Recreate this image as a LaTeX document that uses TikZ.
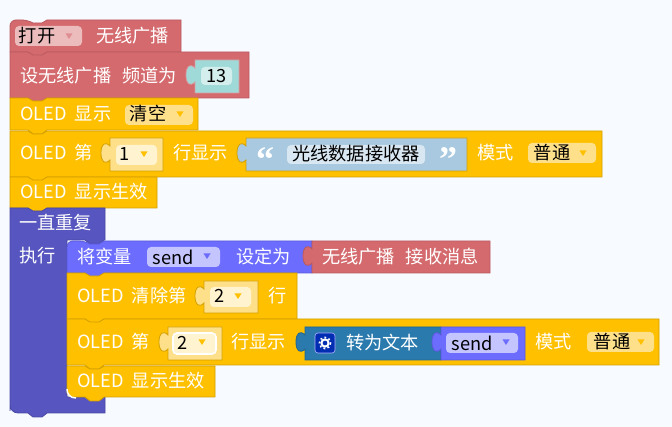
\documentclass[tikz,border=0pt]{standalone}
\usepackage{fontspec}
\setmainfont[WordSpace=2]{Noto Sans CJK SC}
\newfontfamily\quotfont{Liberation Serif}

\definecolor{pagebg}{HTML}{F7FAFF}
\definecolor{radiored}{HTML}{D46A6D}
\definecolor{radioedge}{HTML}{B85A60}
\definecolor{oledyel}{HTML}{FFC000}
\definecolor{oledge}{HTML}{D2A000}
\definecolor{loopblue}{HTML}{5755BF}
\definecolor{loopedge}{HTML}{4A48A5}
\definecolor{varblue}{HTML}{6C6CFF}
\definecolor{varedge}{HTML}{5A5AD8}
\definecolor{numteal}{HTML}{A0DAD8}
\definecolor{numyel}{HTML}{FFE08A}
\definecolor{textblue}{HTML}{A8C9DF}
\definecolor{convblue}{HTML}{2A7AAD}
\definecolor{convedge}{HTML}{1F6690}

\newcommand{\stackblock}[7]{% style, top radius, bottom radius, x0, y0, x1, y1
  \draw[#1] (#4,{#5+10}) [rounded corners=#2] -- (#4,#5) -- ({#4+18},#5) [sharp corners]
    -- ({#4+23},{#5+3}) -- ({#4+32},{#5+3}) -- ({#4+37},#5) -- (#6,#5) -- (#6,#7)
    -- ({#4+37},#7) -- ({#4+32},{#7+4}) -- ({#4+23},{#7+4}) -- ({#4+18},#7)
    [rounded corners=#3] -- (#4,#7) -- (#4,{#7-10}) [sharp corners] -- cycle;
}
\newcommand{\valueblock}[5]{% style, x0, y0, x1, y1
  \draw[#1] (#2,#3) -- (#2,{#3+8}) .. controls ({#2-5},{#3+3}) and ({#2-9},{#3+6}) .. ({#2-9},{#3+15})
    .. controls ({#2-9},{#3+24}) and ({#2-5},{#3+27}) .. (#2,{#3+22}) -- (#2,#5) -- (#4,#5) -- (#4,#3) -- cycle;
}
\newcommand{\ddtri}[3]{% colour, x, y
  \fill[#1] ({#2-3.5},{#3-2.5}) -- ({#2+3.5},{#3-2.5}) -- (#2,{#3+3}) -- cycle;
}

\begin{document}
\begin{tikzpicture}[
  x=1pt, y=-1pt,
  every node/.style={inner sep=0pt, font=\fontsize{18.2}{20}\selectfont},
  lbl/.style={anchor=west, text=white},
  val/.style={anchor=center, text=black},
  quot/.style={anchor=center, text=white, font=\quotfont\bfseries\fontsize{36}{36}\selectfont},
  redblock/.style={fill=radiored, draw=radioedge, line width=0.8pt},
  yelblock/.style={fill=oledyel, draw=oledge, line width=0.8pt},
  varblock/.style={fill=varblue, draw=varedge, line width=0.8pt},
  numblock/.style={fill=numteal, draw=radioedge!60, line width=0.8pt},
  idxblock/.style={fill=numyel, draw=oledge, line width=0.8pt},
  strblock/.style={fill=textblue, draw=oledge, line width=0.8pt},
  convblock/.style={fill=convblue, draw=convedge, line width=0.8pt},
  field/.style={rounded corners=4pt}
]
\fill[pagebg] (0,0) rectangle (672,427);
\useasboundingbox (0,0) rectangle (672,427);

% Radio setup
\stackblock{redblock}{6pt}{0.1pt}{10}{20}{181}{52}
\fill[field, fill=radiored!45!white] (15,26) rectangle (82,46);
\node[val] (onoff) at (37,36) {打开};
\ddtri{radiored!75!white}{69}{36}
\node[lbl] (radio) at (96,36) {无线广播};

\stackblock{redblock}{0.1pt}{0.1pt}{10}{52}{249}{98}
\node[lbl] (channel) at (20,76) {设无线广播\hspace{11pt}频道为};
\valueblock{numblock}{195}{60}{239}{93}
\fill[field, fill=numteal!45!white] (201,67) rectangle (232,85);
\node[val] (chnum) at (216.5,76) {13};

% OLED setup
\stackblock{yelblock}{0.1pt}{0.1pt}{10}{98}{198}{130}
\node[lbl] (oledshow) at (20,114) {OLED 显示};
\fill[field, fill=numyel] (125,105) rectangle (193,125);
\node[val] (clear) at (148,114) {清空};
\ddtri{oledyel}{180}{114}

\stackblock{yelblock}{0.1pt}{0.1pt}{10}{131}{602}{177}
\node[lbl] (oledrow) at (20,153) {OLED 第};
\valueblock{idxblock}{110}{138}{163}{171}
\fill[field, fill=numyel!40!white] (116,145) rectangle (157,165);
\node[val] (rownum) at (125,154) {1};
\ddtri{oledyel}{144}{154}
\node[lbl] (rowshow) at (173,153) {行显示};
\valueblock{strblock}{246}{138}{467}{171}
\node[quot] (qleft) at (265,160) {“};
\fill[field, fill=textblue!45!white] (287,145) rectangle (425,164);
\node[val] (message) at (356,154) {光线数据接收器};
\node[quot] (qright) at (448,160) {”};
\node[lbl] (mode) at (477,153) {模式};
\fill[field, fill=numyel] (528,143) rectangle (596,163);
\node[val] (normal) at (552,153) {普通};
\ddtri{oledyel}{583}{153}

\stackblock{yelblock}{0.1pt}{0.1pt}{10}{177}{157}{208}
\node[lbl] (oledflush) at (20,192) {OLED 显示生效};

% Forever loop
\draw[fill=loopblue, draw=loopedge, line width=0.8pt] (10,218) -- (10,208) -- (28,208) -- (33,211) -- (42,211) -- (47,208)
  -- (105,208) -- (105,240) -- (104,240) -- (99,244) -- (90,244) -- (85,240) -- (67,240)
  -- (67,397) -- (105,397) -- (105,413) -- (47,413) -- (42,417) -- (33,417) -- (28,413)
  [rounded corners=8pt] -- (10,413) -- (10,403) [sharp corners] -- cycle;
\node[lbl] (forever) at (19,223) {一直重复};
\node[lbl] (doit) at (19,256) {执行};

% Loop body
\stackblock{varblock}{6pt}{0.1pt}{67}{241}{312}{273}
\node[lbl] (setvar) at (77,257) {将变量};
\fill[field, fill=varblue!40!white] (147,247) rectangle (220,267);
\node[val] (varname) at (173,257) {send};
\ddtri{varblue}{207}{256}
\node[lbl] (setto) at (236,257) {设定为};
\valueblock{redblock}{312}{241}{490}{273}
\node[lbl] (recv) at (322,257) {无线广播\hspace{11pt}接收消息};

\stackblock{yelblock}{0.1pt}{0.1pt}{67}{273}{297}{319}
\node[lbl] (oledclr) at (77,296) {OLED 清除第};
\valueblock{idxblock}{204}{281}{258}{313}
\fill[field, fill=numyel!40!white] (210,287) rectangle (251,307);
\node[val] (clrnum) at (220,296) {2};
\ddtri{oledyel}{238}{296}
\node[lbl] (clrrow) at (268,296) {行};

\stackblock{yelblock}{0.1pt}{0.1pt}{67}{319}{659}{365}
\node[lbl] (oledrowb) at (77,342) {OLED 第};
\valueblock{idxblock}{168}{327}{222}{360}
\fill[field, fill=numyel!40!white, draw=white, line width=1.6pt] (173,333) rectangle (216,354);
\node[val] (rownumb) at (183,343) {2};
\ddtri{oledyel}{202}{342}
\node[lbl] (rowshowb) at (231,342) {行显示};
\valueblock{convblock}{305}{327}{441}{360}
\fill[rounded corners=3pt, fill=blue!75!cyan!70!black, draw=white!70!blue, line width=0.6pt] (315,333) rectangle (335,353);
\draw[white, line width=2pt] (325,343) circle (3.6);
\draw[white, line width=1.6pt, dash pattern=on 1.8pt off 2.4pt] (325,343) circle (5.6);
\node[lbl] (totext) at (346,343) {转为文本};
\valueblock{varblock}{441}{327}{525}{360}
\fill[field, fill=varblue!40!white] (446,333) rectangle (518,353);
\node[val] (varnameb) at (472,343) {send};
\ddtri{varblue}{506}{342}
\node[lbl] (modeb) at (535,342) {模式};
\fill[field, fill=numyel] (587,332) rectangle (654,352);
\node[val] (normalb) at (612,342) {普通};
\ddtri{oledyel}{641}{342}

\stackblock{yelblock}{0.1pt}{6pt}{67}{366}{215}{397}
\draw[white, line width=1.5pt] (67,389) .. controls (67,394) and (70,398) .. (76,398);
\node[lbl] (oledflushb) at (77,381) {OLED 显示生效};
\end{tikzpicture}
\end{document}
